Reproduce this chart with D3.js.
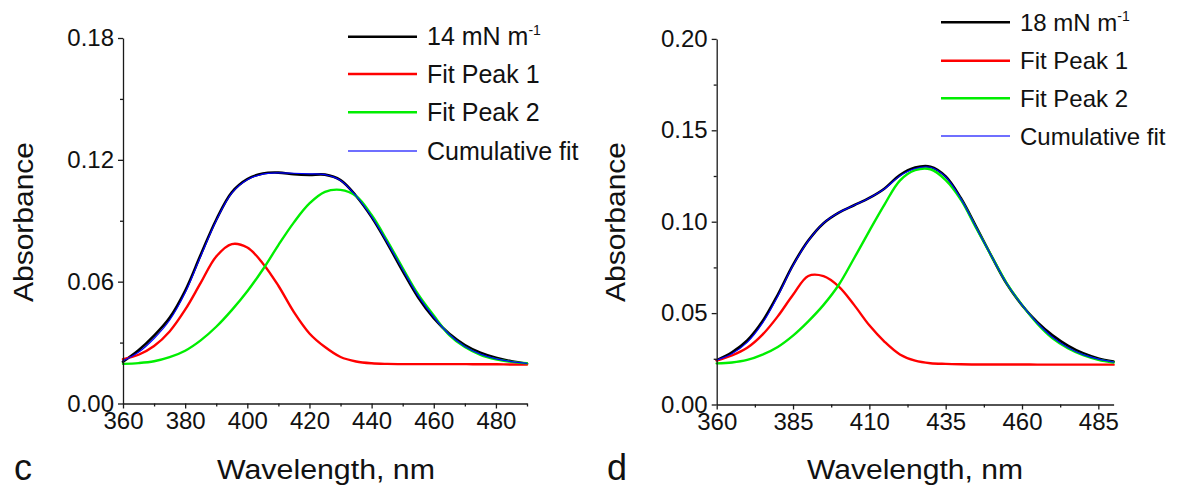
<!DOCTYPE html>
<html><head><meta charset="utf-8">
<script src="https://cdn.jsdelivr.net/npm/d3@7"></script>
<style>
html,body{margin:0;padding:0;background:#fff;}
svg{display:block;font-family:"Liberation Sans",Arial,sans-serif;}
</style></head>
<body>
<svg id="chart" width="1177" height="488"></svg>
<script>
// ---------- data ----------
const wavelength = [360,365,370,375,380,385,390,395,400,405,410,415,420,425,430,435,440,445,450,455,460,465,470,475,480,485,490];

// Panel c (14 mN m-1)
const cData   = [0.0206,0.0262,0.0334,0.0422,0.0555,0.0732,0.0905,0.1040,0.1105,0.1133,0.1137,0.1129,0.1126,0.1127,0.1100,0.1022,0.0918,0.0790,0.0652,0.0522,0.0420,0.0343,0.0288,0.0250,0.0225,0.0208,0.0196];
const cPeak1  = [0.0218,0.0240,0.0283,0.0355,0.0462,0.0594,0.0724,0.0785,0.0768,0.0690,0.0580,0.0450,0.0345,0.0278,0.0229,0.0207,0.0198,0.0195,0.0194,0.0194,0.0194,0.0194,0.0194,0.0193,0.0193,0.0192,0.0192];
const cPeak2  = [0.0195,0.0199,0.0208,0.0228,0.0260,0.0311,0.0378,0.0460,0.0553,0.0660,0.0780,0.0892,0.0985,0.1042,0.1052,0.1022,0.0928,0.0802,0.0667,0.0537,0.0433,0.0337,0.0278,0.0240,0.0218,0.0205,0.0198];
const cCumul  = [0.0210,0.0252,0.0320,0.0410,0.0545,0.0725,0.0900,0.1036,0.1102,0.1130,0.1136,0.1134,0.1131,0.1127,0.1098,0.1022,0.0920,0.0795,0.0660,0.0530,0.0426,0.0340,0.0281,0.0243,0.0220,0.0206,0.0198];

// Panel d (18 mN m-1)
const dData   = [0.0243,0.0285,0.0350,0.0455,0.0600,0.0764,0.0897,0.0992,0.1050,0.1090,0.1130,0.1182,0.1255,0.1296,0.1301,0.1248,0.1128,0.0972,0.0812,0.0660,0.0543,0.0450,0.0378,0.0322,0.0280,0.0252,0.0235];
const dPeak1  = [0.0240,0.0268,0.0310,0.0382,0.0482,0.0600,0.0703,0.0702,0.0645,0.0545,0.0433,0.0343,0.0274,0.0240,0.0226,0.0222,0.0220,0.0219,0.0219,0.0219,0.0219,0.0218,0.0218,0.0218,0.0218,0.0218,0.0218];
const dPeak2  = [0.0225,0.0230,0.0244,0.0273,0.0315,0.0377,0.0455,0.0545,0.0655,0.0800,0.0950,0.1095,0.1225,0.1282,0.1287,0.1228,0.1120,0.0965,0.0812,0.0663,0.0545,0.0442,0.0362,0.0308,0.0270,0.0245,0.0230];
const dCumul  = [0.0243,0.0278,0.0340,0.0445,0.0592,0.0760,0.0895,0.0992,0.1050,0.1090,0.1130,0.1180,0.1250,0.1291,0.1298,0.1245,0.1125,0.0968,0.0812,0.0662,0.0545,0.0446,0.0368,0.0312,0.0273,0.0248,0.0232];

const cXTicks = [360,380,400,420,440,460,480];
const cXMinor = [370,390,410,430,450,470,490];
const cYTicks = [0,0.06,0.12,0.18];
const cYMinor = [0.03,0.09,0.15];

const dXTicks = [360,385,410,435,460,485];
const dXMinor = [372.5,397.5,422.5,447.5,472.5];
const dYTicks = [0,0.05,0.10,0.15,0.20];
const dYMinor = [0.025,0.075,0.125,0.175];

const seriesNames = ["Fit Peak 1","Fit Peak 2","Cumulative fit"];
const seriesColors = ["#000000","#ff0000","#00ee00","#0000ff"];

// ---------- drawing ----------
const svg = d3.select("#chart");
svg.append("rect").attr("width",1177).attr("height",488).attr("fill","#fff");

function panel(o){
  const g = svg.append("g");
  const x = d3.scaleLinear().domain([360,490]).range([o.x0,o.x1]);
  const y = d3.scaleLinear().domain([0,o.ymax]).range([o.y0,o.y1]);
  const axisCol = "#1a1a1a";

  // curves
  const line = d3.line().x((d,i)=>x(wavelength[i])).y(d=>y(d)).curve(d3.curveCatmullRom.alpha(0.5));
  const series = [o.data,o.p1,o.p2,o.cum];
  const widths = [2.6,2.4,2.4,1.2];
  series.forEach((s,k)=>{
    g.append("path").attr("d",line(s)).attr("fill","none")
     .attr("stroke",seriesColors[k]).attr("stroke-width",widths[k])
     .attr("stroke-linejoin","round").attr("stroke-linecap","round");
  });

  // x axis
  g.append("g").attr("transform",`translate(0,${o.y0})`)
    .call(d3.axisBottom(x).tickValues(o.xt).tickSize(5).tickSizeOuter(0).tickPadding(3).tickFormat(d3.format("d")));
  g.append("g").attr("transform",`translate(0,${o.y0})`)
    .call(d3.axisBottom(x).tickValues(o.xm).tickSize(3).tickSizeOuter(0).tickFormat(""))
    .select(".domain").remove();
  // y axis
  g.append("g").attr("transform",`translate(${o.x0},0)`)
    .call(d3.axisLeft(y).tickValues(o.yt).tickSize(5).tickSizeOuter(0).tickPadding(4).tickFormat(d3.format(".2f")));
  g.append("g").attr("transform",`translate(${o.x0},0)`)
    .call(d3.axisLeft(y).tickValues(o.ym).tickSize(3).tickSizeOuter(0).tickFormat(""))
    .select(".domain").remove();
  g.selectAll(".domain,.tick line").attr("stroke",axisCol).attr("stroke-width",1.3);
  g.selectAll(".tick text").attr("fill","#111").style("font-size","24px").style("font-family",'"Liberation Sans",Arial,sans-serif');

  // axis titles
  g.append("text").attr("x",o.xtX).attr("y",479).attr("text-anchor","middle")
    .attr("textLength",o.xtLen).attr("lengthAdjust","spacingAndGlyphs")
    .style("font-size","27px").attr("fill","#111").text("Wavelength, nm");
  g.append("text").attr("transform",`translate(${o.ytX},222) rotate(-90)`).attr("text-anchor","middle")
    .attr("textLength",160).attr("lengthAdjust","spacingAndGlyphs")
    .style("font-size","28px").attr("fill","#111").text("Absorbance");
  // panel letter
  g.append("text").attr("x",o.letX).attr("y",480).style("font-size","36px").attr("fill","#111").text(o.letter);

  // legend
  const labels = [o.pressure].concat(seriesNames);
  labels.forEach((lab,k)=>{
    const ly = o.legY[k];
    g.append("line").attr("x1",o.legX).attr("x2",o.legX+69).attr("y1",ly).attr("y2",ly)
      .attr("stroke",seriesColors[k]).attr("stroke-width",k===3?1.3:2.6).attr("opacity",k===3?0.75:1);
    const t = g.append("text").attr("x",o.legX+79).attr("y",ly+8.5).style("font-size",o.legFs+"px").attr("fill","#111");
    if(k===0){
      t.append("tspan").text(lab+" m");
      t.append("tspan").attr("dy",-10).style("font-size","14px").text("-1");
    } else t.text(lab);
  });
}

panel({x0:123,x1:527,y0:403.5,y1:38,ymax:0.18,data:cData,p1:cPeak1,p2:cPeak2,cum:cCumul,
  xt:cXTicks,xm:cXMinor,yt:cYTicks,ym:cYMinor,xtX:326,xtLen:218,ytX:33,letX:14,letter:"c",
  pressure:"14 mN",legX:348,legY:[36.7,74,112.3,151],legFs:25});
panel({x0:716.7,x1:1113.6,y0:404.5,y1:38.9,ymax:0.20,data:dData,p1:dPeak1,p2:dPeak2,cum:dCumul,
  xt:dXTicks,xm:dXMinor,yt:dYTicks,ym:dYMinor,xtX:915,xtLen:216,ytX:625,letX:607,letter:"d",
  pressure:"18 mN",legX:941,legY:[22.3,60.7,98.3,136],legFs:24});
</script>
</body></html>
